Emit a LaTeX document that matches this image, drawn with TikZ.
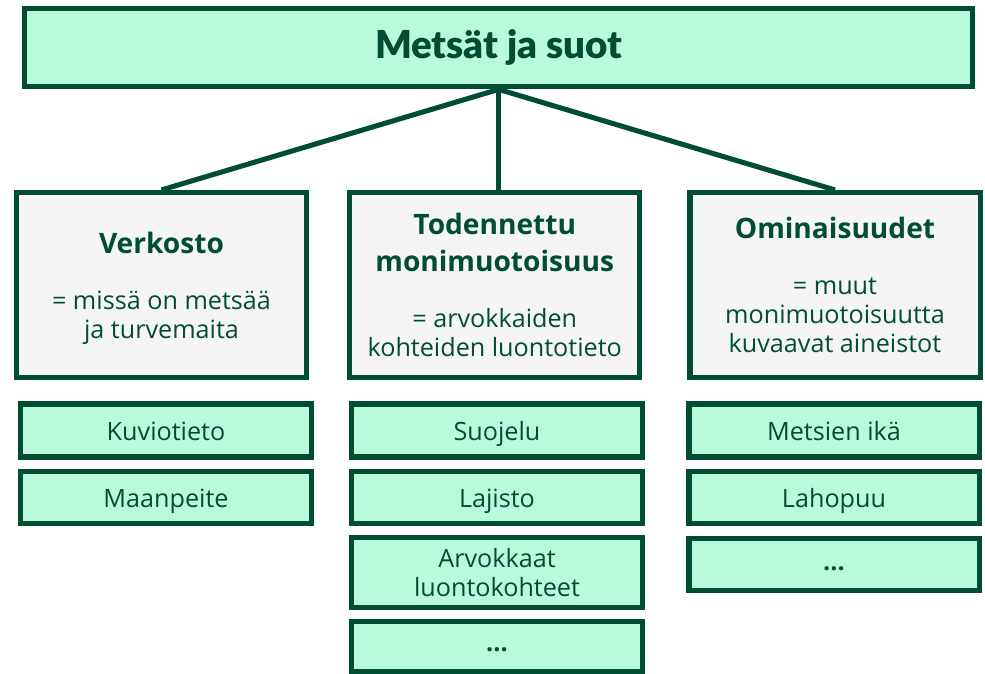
\documentclass[tikz,border=0pt]{standalone}
\usepackage{fontspec}
\setmainfont{Open Sans}
\newfontfamily\titlefont{Lato Black}
\definecolor{forest}{HTML}{004D33}
\definecolor{mint}{HTML}{BAFADC}
\definecolor{paper}{HTML}{F5F5F5}
\newcommand{\bodyfont}{\fontsize{17.9}{20.8}\selectfont}
\newcommand{\headfont}{\bfseries\fontsize{20}{25.6}\selectfont}
\tikzset{
  box/.style={draw=forest, line width=3.6pt, text=forest, align=center, inner sep=0pt},
  titlebox/.style={box, fill=mint, minimum width=23.69cm, minimum height=1.96cm,
    font=\titlefont\fontsize{27.4}{33}\selectfont},
  groupbox/.style={box, fill=paper, minimum width=7.25cm, minimum height=4.625cm,
    text depth=0pt, font=\bodyfont},
  itembase/.style={box, fill=mint, minimum width=7.25cm, minimum height=1.325cm, font=\bodyfont},
  itembox/.style={itembase, text height=19pt, text depth=4.5pt},
  dotsbox/.style={itembase, text height=7.8pt, text depth=0pt},
  link/.style={draw=forest, line width=3.6pt}
}

\begin{document}
\begin{tikzpicture}[x=0.025cm,y=-0.025cm]
\useasboundingbox (0,0) rectangle (985,674);

% Top
\node[titlebox] (metsat) at (498.65,47.65) {Metsät ja suot};

% Groups
\node[groupbox] (verkosto) at (161.5,285) {{\headfont Verkosto}\\[19pt]= missä on metsää\\ja turvemaita};
\node[groupbox] (todennettu) at (494.75,285) {{\headfont Todennettu}\\[5pt]{\headfont monimuotoisuus}\\[19pt]= arvokkaiden\\kohteiden luontotieto};
\node[groupbox] (ominaisuudet) at (835,285) {{\headfont Ominaisuudet}\\[19pt]= muut\\monimuotoisuutta\\kuvaavat aineistot};

\draw[link] (metsat.south) -- (verkosto.north);
\draw[link] (metsat.south) -- (metsat.south |- todennettu.north);
\draw[link] (metsat.south) -- (ominaisuudet.north);

% Items
\node[itembox] (kuviotieto) at (166,430.5) {Kuviotieto};
\node[itembox, minimum height=1.3cm] (maanpeite) at (166,497.5) {Maanpeite};

\node[itembox, minimum width=7.275cm] (suojelu) at (497,430.5) {Suojelu};
\node[itembox, minimum width=7.275cm, minimum height=1.3cm] (lajisto) at (497,497.5) {Lajisto};
\node[itembase, minimum width=7.275cm, minimum height=1.74cm] (arvokkaat) at (497,572.25) {Arvokkaat\\luontokohteet};
\node[dotsbox, minimum width=7.275cm, minimum height=1.25cm] (lisaa2) at (497,646.5) {\textbf{...}};

\node[itembox] (ika) at (834,430.5) {Metsien ikä};
\node[itembox, minimum height=1.3cm] (lahopuu) at (834,497.5) {Lahopuu};
\node[dotsbox, minimum height=1.31cm] (lisaa3) at (834,564.75) {\textbf{...}};
\end{tikzpicture}
\end{document}
